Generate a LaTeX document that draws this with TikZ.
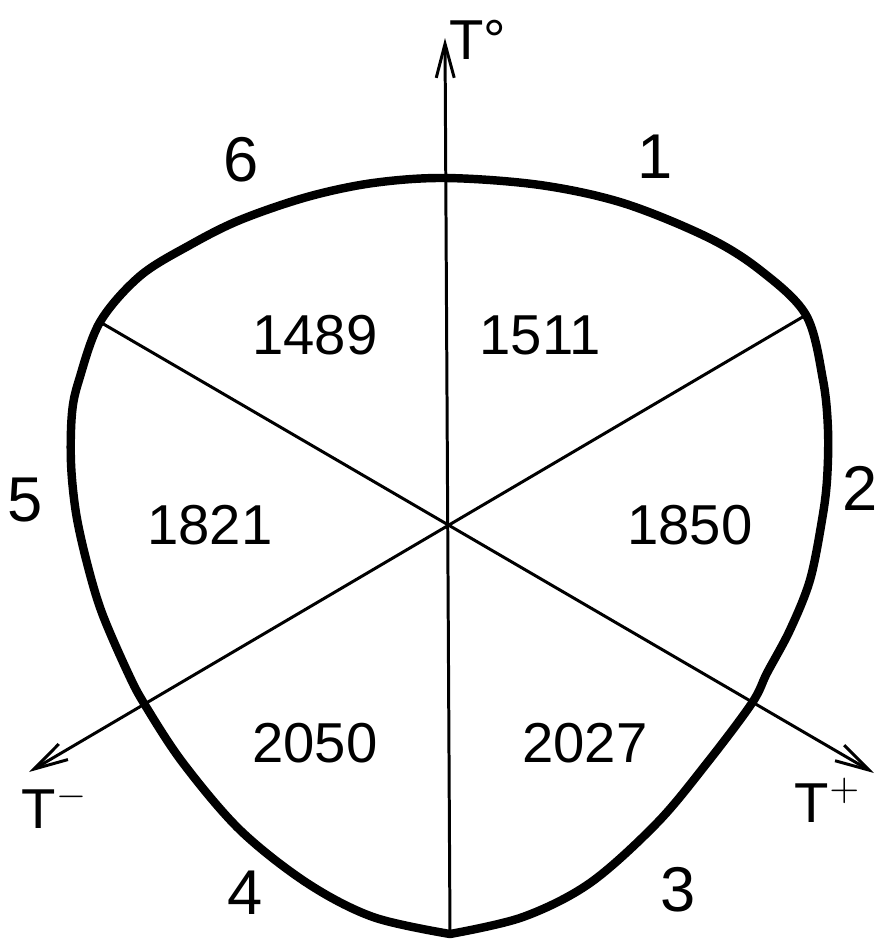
\documentclass[tikz,border=0pt]{standalone}
\usepackage{fontspec}
\setmainfont{Liberation Sans}
\usetikzlibrary{arrows.meta}

\begin{document}
\begin{tikzpicture}[x=0.01cm,y=-0.01cm,
 rim/.style={line width=2.4pt,line join=round,line cap=round},
 axis/.style={line width=0.85pt},
 arr/.style={axis,-{Straight Barb[length=0.34cm,width=0.18cm,line width=0.85pt]}},
 num/.style={font=\fontsize{16}{16}\selectfont,inner sep=0pt},
 side/.style={font=\fontsize{18}{18}\selectfont,inner sep=0pt}]
\useasboundingbox (0,0) rectangle (877,939);
% points where the axes meet the rim
\coordinate (O) at (449,525);
\coordinate (Ptop) at (446,178);
\coordinate (Pbot) at (450,934);
\coordinate (Pur) at (806,315);
\coordinate (Pul) at (100,322);
\coordinate (Plr) at (752,703);
\coordinate (Pll) at (145,705);
% arrow tips
\coordinate (Tzero) at (445,38);
\coordinate (Tminus) at (29,772);
\coordinate (Tplus) at (874,773);
% rim of the section
\draw[rim] plot[smooth,tension=0.55] coordinates {
 (450,934) (373,917) (307,883) (240,830) (183,763) (145,705)
 (128,673) (102,613) (87,563) (76,513) (71,463) (72,413) (79,380)
 (100,322) (140,276) (190,245) (240,220) (307,197) (373,183) (446,178)
 (540,185) (623,203) (707,237) (760,270) (806,315) (823,380)
 (828,430) (827,480) (822,520) (810,580) (790,630) (767,673)
 (752,703) (707,763) (657,823) (590,883) (523,917) (450,934)};
% axes
\draw[arr] (Pbot) -- (Tzero);
\draw[arr] (Pur) -- (Tminus);
\draw[arr] (Pul) -- (Tplus);
\node[num] (lz) at (478,40) {T°};
\node[num] (lm) at (55,806) {T$^{-}$};
\node[num] (lp) at (828,800) {T$^{+}$};
% values in the sectors
\node[num] (s1) at (540,335) {1511};
\node[num] (s6) at (315,335) {1489};
\node[num] (s2) at (690,525) {1850};
\node[num] (s5) at (210,525) {1821};
\node[num] (s3) at (585,743) {2027};
\node[num] (s4) at (315,743) {2050};
% sector numbers
\node[side] (n1) at (655,157) {1};
\node[side] (n2) at (860,488) {2};
\node[side] (n3) at (678,890) {3};
\node[side] (n4) at (245,893) {4};
\node[side] (n5) at (25,500) {5};
\node[side] (n6) at (241,160) {6};
\end{tikzpicture}
\end{document}
